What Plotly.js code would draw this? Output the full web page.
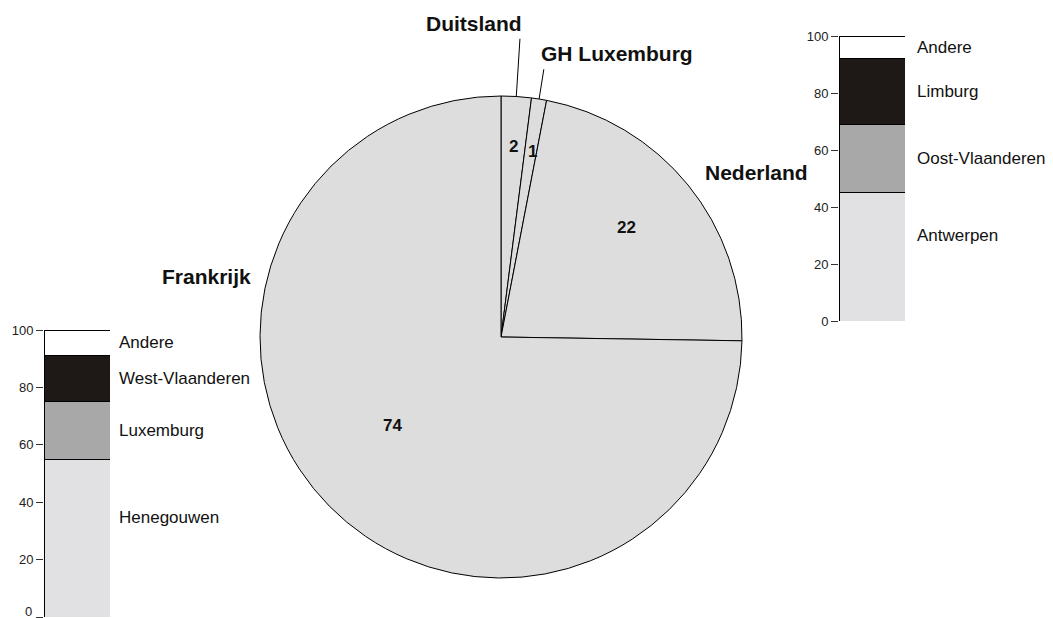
<!DOCTYPE html>
<html>
<head>
<meta charset="utf-8">
<script src="https://cdn.plot.ly/plotly-3.0.1.min.js"></script>
<style>
html,body{margin:0;padding:0;background:#fff;}
#chart{width:1053px;height:618px;}
</style>
</head>
<body>
<div id="chart"></div>
<script>
// ---- DATA ----
var countries = ['Duitsland', 'GH Luxemburg', 'Nederland', 'Frankrijk'];
var countryValues = [2, 1, 22, 74];

var leftCategories = ['Henegouwen', 'Luxemburg', 'West-Vlaanderen', 'Andere'];
var leftValues = [55, 20, 16, 9];

var rightCategories = ['Antwerpen', 'Oost-Vlaanderen', 'Limburg', 'Andere'];
var rightValues = [45, 24, 23, 8];

var tickValues = [0, 20, 40, 60, 80, 100];
var tickLabels = ['0', '20', '40', '60', '80', '100'];

// ---- STYLE / LAYOUT ----
var W = 1053, H = 618;
var FONT = '"Liberation Sans", Arial, sans-serif';
var segColors = ['#e1e1e3', '#a8a8a8', '#1e1916', '#ffffff'];
var pieFill = '#dddddd';

// pie geometry in pixels
var pieBox = {x0: 260, x1: 742, y0: 96, y1: 578};
var cx = (pieBox.x0 + pieBox.x1) / 2, cy = (pieBox.y0 + pieBox.y1) / 2;
var R = (pieBox.x1 - pieBox.x0) / 2;

function px2paperX(p) { return p / W; }
function px2paperY(p) { return 1 - p / H; }

var traces = [];
traces.push({
  type: 'pie',
  values: countryValues,
  labels: countries,
  sort: false,
  direction: 'clockwise',
  rotation: 0,
  textinfo: 'none',
  hoverinfo: 'label+value',
  marker: {colors: countries.map(function(){return pieFill;}), line: {color: '#000', width: 1}},
  domain: {x: [px2paperX(pieBox.x0), px2paperX(pieBox.x1)], y: [px2paperY(pieBox.y1), px2paperY(pieBox.y0)]},
  showlegend: false
});

leftCategories.forEach(function(c, i) {
  traces.push({type: 'bar', x: [0], y: [leftValues[i]], name: c, xaxis: 'x', yaxis: 'y',
    width: 1, marker: {color: segColors[i], line: {color: '#000', width: 1}}, showlegend: false, hoverinfo: 'name+y'});
});
rightCategories.forEach(function(c, i) {
  traces.push({type: 'bar', x: [0], y: [rightValues[i]], name: c, xaxis: 'x2', yaxis: 'y2',
    width: 1, marker: {color: segColors[i], line: {color: '#000', width: 1}}, showlegend: false, hoverinfo: 'name+y'});
});

// label positions (value units along the bars)
var leftLabelY = [34.6, 65, 83, 95.5];
var rightLabelY = [30, 57, 80.5, 96];

var annotations = [];
var shapes = [];

leftCategories.forEach(function(c, i) {
  annotations.push({xref: 'paper', yref: 'y', x: 117 / W, y: leftLabelY[i], text: c, showarrow: false,
    xanchor: 'left', yanchor: 'middle', font: {family: FONT, size: 17, color: '#111'}});
});
rightCategories.forEach(function(c, i) {
  annotations.push({xref: 'paper', yref: 'y2', x: 915 / W, y: rightLabelY[i], text: c, showarrow: false,
    xanchor: 'left', yanchor: 'middle', font: {family: FONT, size: 17, color: '#111'}});
});

// bottom "0" tick label of the left bar sits just above the page edge
annotations.push({xref: 'paper', yref: 'paper', x: 34 / W, y: px2paperY(611), text: tickLabels[0], showarrow: false,
  xanchor: 'right', yanchor: 'middle', font: {family: FONT, size: 13, color: '#222'}});

// inner value labels computed from slice angles
var total = countryValues.reduce(function(a, b){return a + b;}, 0);
var innerR = [0.79, 0.78, 0.69, 0.58];
var innerDA = [0, 0.5, -2, 5.5];
var cum = 0;
var midAngles = [];
countryValues.forEach(function(v, i) {
  var a0 = cum / total * 360;
  cum += v;
  var a1 = cum / total * 360;
  var mid = (a0 + a1) / 2;
  midAngles.push(mid);
  var a = (mid + innerDA[i]) * Math.PI / 180;
  var px = cx + R * innerR[i] * Math.sin(a);
  var py = cy - R * innerR[i] * Math.cos(a);
  annotations.push({xref: 'paper', yref: 'paper', x: px2paperX(px), y: px2paperY(py), text: String(v),
    showarrow: false, xanchor: 'center', yanchor: 'middle',
    font: {family: FONT, size: 17, color: '#111', weight: 'bold'}});
});

// leader lines for the two smallest slices
var leaderExt = [1.24, 1.125];
[0, 1].forEach(function(i) {
  var a = midAngles[i] * Math.PI / 180;
  shapes.push({type: 'line', xref: 'paper', yref: 'paper',
    x0: px2paperX(cx + R * Math.sin(a)), y0: px2paperY(cy - R * Math.cos(a)),
    x1: px2paperX(cx + R * leaderExt[i] * Math.sin(a)), y1: px2paperY(cy - R * leaderExt[i] * Math.cos(a)),
    line: {color: '#000', width: 1}});
});

// outer country labels
var outerPos = [
  {x: 474, y: 23, anchor: 'center'},
  {x: 539, y: 54, anchor: 'left'},
  {x: 756, y: 172, anchor: 'center'},
  {x: 206, y: 276, anchor: 'center'}
];
countries.forEach(function(c, i) {
  annotations.push({xref: 'paper', yref: 'paper', x: px2paperX(outerPos[i].x), y: px2paperY(outerPos[i].y),
    text: c, showarrow: false, xanchor: outerPos[i].anchor, yanchor: 'middle',
    font: {family: FONT, size: 21, color: '#111', weight: 'bold'}});
});

function yAxis(domain, labels) {
  return {domain: domain, range: [0, 100], tickvals: tickValues, ticktext: labels,
    ticks: 'outside', ticklen: 7, tickcolor: '#333', tickwidth: 1, showgrid: false, zeroline: false,
    showline: false, tickfont: {family: FONT, size: 13, color: '#222'}, fixedrange: true};
}
function xAxis(domain, anchor) {
  return {domain: domain, anchor: anchor, range: [-0.5, 0.5], showticklabels: false, ticks: '',
    showgrid: false, zeroline: false, showline: false, fixedrange: true};
}

var leftTickText = tickLabels.map(function(t, i){ return i === 0 ? '' : t; });

var layout = {
  width: W, height: H,
  margin: {l: 0, r: 0, t: 0, b: 0},
  paper_bgcolor: '#fff', plot_bgcolor: 'rgba(0,0,0,0)',
  barmode: 'stack', bargap: 0,
  showlegend: false,
  font: {family: FONT},
  xaxis: xAxis([44 / W, 110 / W], 'y'),
  yaxis: Object.assign(yAxis([px2paperY(617), px2paperY(330)], leftTickText), {anchor: 'x'}),
  xaxis2: xAxis([839 / W, 905 / W], 'y2'),
  yaxis2: Object.assign(yAxis([px2paperY(321), px2paperY(36)], tickLabels), {anchor: 'x2'}),
  annotations: annotations,
  shapes: shapes
};

Plotly.newPlot('chart', traces, layout, {displayModeBar: false, staticPlot: true});
</script>
</body>
</html>
